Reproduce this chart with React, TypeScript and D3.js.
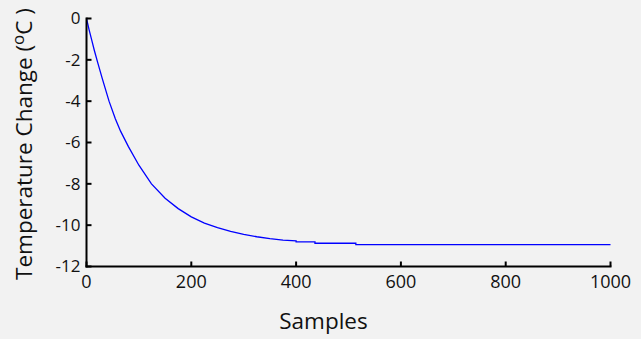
import { useEffect, useRef } from 'react';
import * as d3 from 'd3';

const W = 641;
const H = 339;

// samples and temperature change
const samples = [
  0, 5, 10, 15, 21, 30, 43, 55, 65, 80, 100, 124, 150, 175, 200, 225, 250,
  275, 300, 325, 350, 375, 400, 400, 436, 436, 514, 514, 1000,
];
const tempChange = [
  0, -0.55, -1.05, -1.55, -2.1, -2.9, -4.0, -4.85, -5.45, -6.2, -7.1, -8.0,
  -8.7, -9.2, -9.6, -9.9, -10.12, -10.3, -10.45, -10.56, -10.65, -10.72,
  -10.76, -10.8125, -10.8125, -10.875, -10.875, -10.9375, -10.9375,
];

const xTicks = [0, 200, 400, 600, 800, 1000];
const yTicks = [0, -2, -4, -6, -8, -10, -12];

const M = { left: 86.5, right: 610.5, top: 18.5, bottom: 266.5 };
const FONT = '"Open Sans", sans-serif';

export default function App() {
  const svgRef = useRef<SVGSVGElement>(null);

  useEffect(() => {
    const svg = d3.select(svgRef.current);
    svg.selectAll('*').remove();

    const x = d3.scaleLinear().domain([0, 1000]).range([M.left, M.right]);
    const y = d3.scaleLinear().domain([-12, 0]).range([M.bottom, M.top]);

    svg.append('rect').attr('width', W).attr('height', H).attr('fill', '#f2f2f2');

    // line
    const pts = samples.map((s, i) => [s, tempChange[i]] as [number, number]);
    svg
      .append('path')
      .attr(
        'd',
        d3
          .line<[number, number]>()
          .x((d) => x(d[0]))
          .y((d) => y(d[1]))(pts),
      )
      .attr('fill', 'none')
      .attr('stroke', '#0000ff')
      .attr('stroke-width', 1.3);

    // axes
    const axis = svg.append('g').attr('stroke', '#000').attr('stroke-width', 2);
    axis
      .append('line')
      .attr('x1', M.left)
      .attr('x2', M.left)
      .attr('y1', M.top - 1)
      .attr('y2', M.bottom + 1);
    axis
      .append('line')
      .attr('x1', M.left - 1)
      .attr('x2', M.right + 1)
      .attr('y1', M.bottom)
      .attr('y2', M.bottom);

    yTicks.forEach((v) => {
      axis
        .append('line')
        .attr('x1', M.left)
        .attr('x2', M.left + 5)
        .attr('y1', y(v))
        .attr('y2', y(v));
      svg
        .append('text')
        .attr('x', M.left - 6)
        .attr('y', y(v))
        .attr('dy', '0.35em')
        .attr('text-anchor', 'end')
        .attr('font-family', FONT)
        .attr('font-size', 17)
        .attr('fill', '#111')
        .text(v);
    });

    xTicks.forEach((v) => {
      axis
        .append('line')
        .attr('x1', x(v))
        .attr('x2', x(v))
        .attr('y1', M.bottom)
        .attr('y2', M.bottom - 5);
      svg
        .append('text')
        .attr('x', x(v))
        .attr('y', 288)
        .attr('text-anchor', 'middle')
        .attr('font-family', FONT)
        .attr('font-size', 18)
        .attr('fill', '#111')
        .text(v);
    });

    svg
      .append('text')
      .attr('x', 323.5)
      .attr('y', 329)
      .attr('text-anchor', 'middle')
      .attr('font-family', FONT)
      .attr('font-size', 22.5)
      .attr('fill', '#111')
      .text('Samples');

    const yl = svg
      .append('text')
      .attr('transform', 'translate(32,144) rotate(-90)')
      .attr('text-anchor', 'middle')
      .attr('font-family', FONT)
      .attr('font-size', 22.5)
      .attr('fill', '#111');
    yl.append('tspan').text('Temperature Change (');
    yl.append('tspan').attr('dy', -8).attr('font-size', 17).text('o');
    yl.append('tspan').attr('dy', 8).text('C )');
  }, []);

  return (
    <svg
      ref={svgRef}
      width={W}
      height={H}
      style={{ position: 'absolute', left: 0, top: 0, display: 'block' }}
    />
  );
}
